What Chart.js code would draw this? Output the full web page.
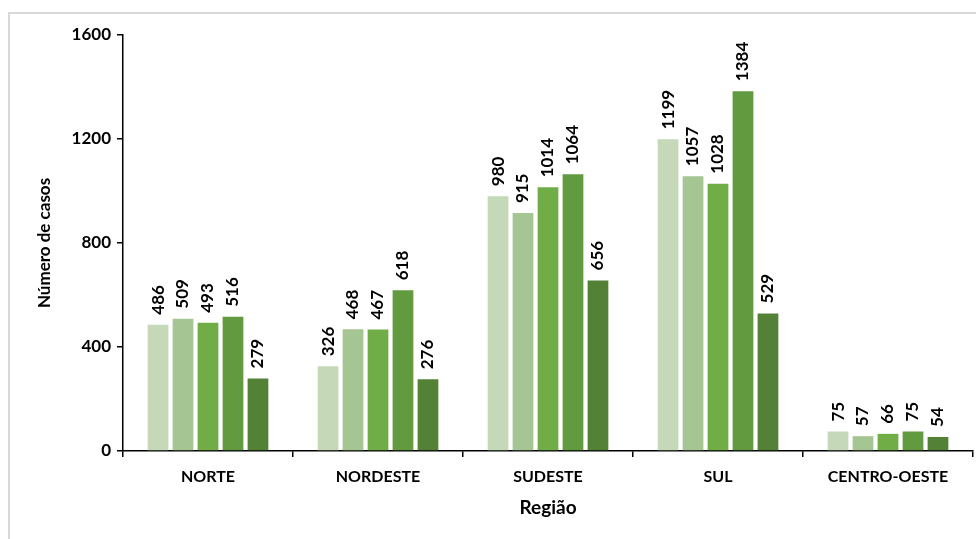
<!DOCTYPE html>
<html>
<head>
<meta charset="utf-8">
<script src="https://cdn.jsdelivr.net/npm/chart.js@4/dist/chart.umd.min.js"></script>
<style>
  html, body { margin: 0; padding: 0; background: #fff; }
  body { width: 976px; height: 539px; position: relative; overflow: hidden; }
  #frame { position: absolute; left: 8px; top: 12px; width: 1000px; height: 600px;
           border-left: 2px solid #d9d9d9; border-top: 2px solid #d9d9d9; box-sizing: border-box; }
  #wrap { position: absolute; left: 0; top: 0; width: 976px; height: 539px; }
</style>
</head>
<body>
<div id="frame"></div>
<div id="wrap"><canvas id="c" width="976" height="539"></canvas></div>
<script>
const categories = ['NORTE', 'NORDESTE', 'SUDESTE', 'SUL', 'CENTRO-OESTE'];
const seriesNames = ['Série 1', 'Série 2', 'Série 3', 'Série 4', 'Série 5'];
const series1 = [486, 326, 980, 1199, 75];
const series2 = [509, 468, 915, 1057, 57];
const series3 = [493, 467, 1014, 1028, 66];
const series4 = [516, 618, 1064, 1384, 75];
const series5 = [279, 276, 656, 529, 54];
const yTicks = [0, 400, 800, 1200, 1600];
const colors = ['#c5d9b9', '#a5c592', '#70ad47', '#629b3f', '#538135'];

const FONT = 'Lato, "Open Sans", sans-serif';

const labelPlugin = {
  id: 'barLabels',
  afterDatasetsDraw(chart) {
    const ctx = chart.ctx;
    ctx.save();
    ctx.font = 'bold 17px ' + FONT;
    ctx.fillStyle = '#000';
    ctx.textAlign = 'left';
    ctx.textBaseline = 'middle';
    chart.data.datasets.forEach((ds, i) => {
      const meta = chart.getDatasetMeta(i);
      meta.data.forEach((el, j) => {
        ctx.save();
        ctx.translate(el.x, el.y - 10);
        ctx.rotate(-Math.PI / 2);
        ctx.fillText(String(ds.data[j]), 0, 0);
        ctx.restore();
      });
    });
    ctx.restore();
  }
};

const allSeries = [series1, series2, series3, series4, series5];

new Chart(document.getElementById('c'), {
  type: 'bar',
  data: {
    labels: categories,
    datasets: allSeries.map((s, i) => ({
      label: seriesNames[i],
      data: s,
      backgroundColor: colors[i],
      borderWidth: 0,
      categoryPercentage: 0.735,
      barPercentage: 0.83
    }))
  },
  plugins: [labelPlugin],
  options: {
    responsive: false,
    animation: false,
    devicePixelRatio: 1,
    layout: { padding: { left: 30, right: 3, top: 35, bottom: 16 } },
    plugins: { legend: { display: false }, tooltip: { enabled: false } },
    scales: {
      x: {
        grid: { display: true, offset: true, drawOnChartArea: false, drawTicks: true, tickLength: 6, color: '#000', lineWidth: 1.5 },
        border: { display: true, color: '#000', width: 1.5 },
        ticks: { color: '#000', font: { family: FONT, size: 16, weight: 'bold' }, padding: 10 },
        title: { display: true, text: 'Região', color: '#000', font: { family: FONT, size: 19, weight: 'bold' }, padding: { top: 10 } },
        afterFit(scale) { scale.height = 539 - 451 - 16; }
      },
      y: {
        min: 0, max: 1600,
        afterBuildTicks(scale) { scale.ticks = yTicks.map(v => ({ value: v })); },
        grid: { display: true, drawOnChartArea: false, drawTicks: true, tickLength: 6, color: '#000', lineWidth: 1.5 },
        border: { display: true, color: '#000', width: 1.5 },
        ticks: { color: '#000', font: { family: FONT, size: 17, weight: 'bold' }, padding: 6,
                 callback: (v) => String(v) },
        title: { display: true, text: 'Número de casos', color: '#000', font: { family: FONT, size: 17, weight: 'bold' }, padding: { bottom: 12 } },
        afterFit(scale) { scale.width = 123 - 30; }
      }
    }
  }
});
</script>
</body>
</html>
